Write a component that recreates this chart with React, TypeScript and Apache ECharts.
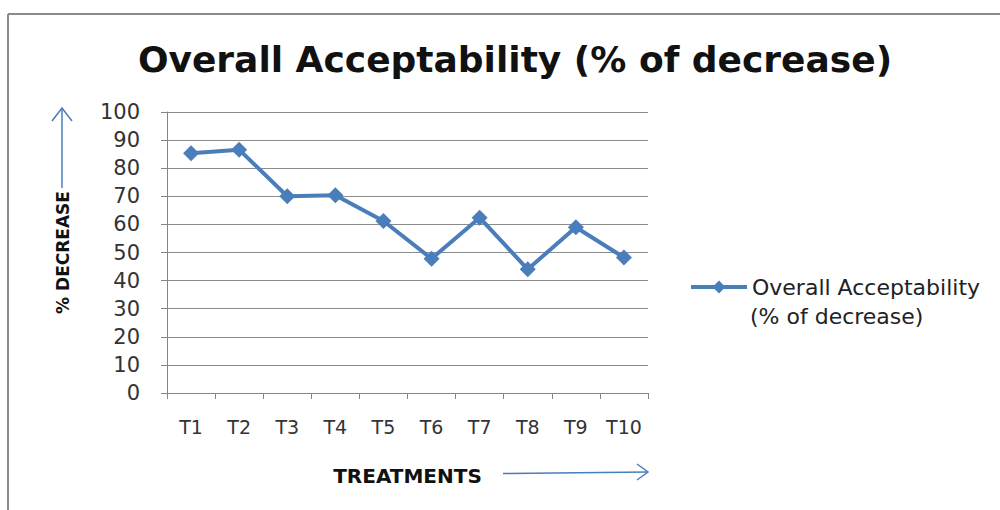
import React, { useEffect, useRef } from "react";
import * as echarts from "echarts";

const categories = ["T1", "T2", "T3", "T4", "T5", "T6", "T7", "T8", "T9", "T10"];
const values = [85.3, 86.6, 70, 70.4, 61.2, 47.8, 62.4, 44, 59, 48.2];
const seriesName = "Overall Acceptability";
const seriesNameLine2 = "(% of decrease)";
const titleText = "Overall Acceptability (% of decrease)";
const yAxisTitle = "% DECREASE";
const xAxisTitle = "TREATMENTS";

const FONT = "DejaVu Sans";
const BLUE = "#4a7ebb";

export default function App() {
  const ref = useRef<HTMLDivElement>(null);
  useEffect(() => {
    if (!ref.current) return;
    const chart = echarts.init(ref.current, null, { renderer: "svg" });
    chart.setOption({
      animation: false,
      backgroundColor: "#ffffff",
      title: {
        text: titleText,
        left: 510,
        top: 36,
        textAlign: "center",
        textStyle: { fontFamily: FONT, fontWeight: "bold", fontSize: 36, color: "#111" },
      },
      grid: { left: 167, right: 352, top: 112, bottom: 117, containLabel: false },
      legend: {
        left: 689,
        top: 276,
        padding: 0,
        itemWidth: 56,
        itemHeight: 16,
        itemGap: 0,
        lineStyle: { width: 4 },
        textStyle: { fontFamily: FONT, fontSize: 22, color: "#222" },
        data: [seriesName],
      },
      xAxis: {
        type: "category",
        data: categories,
        boundaryGap: true,
        name: xAxisTitle,
        nameLocation: "middle",
        nameGap: 73,
        nameTextStyle: { fontFamily: FONT, fontWeight: "bold", fontSize: 20, color: "#111" },
        axisLine: { lineStyle: { color: "#868686", width: 1 } },
        axisTick: { show: true, interval: 0, length: 6, lineStyle: { color: "#868686" } },
        axisLabel: { interval: 0, fontFamily: FONT, fontSize: 19, color: "#333", margin: 24 },
        splitLine: { show: false },
      },
      yAxis: {
        type: "value",
        min: 0,
        max: 100,
        interval: 10,
        name: yAxisTitle,
        nameLocation: "middle",
        nameGap: 96,
        nameRotate: 90,
        nameTextStyle: { fontFamily: FONT, fontWeight: "bold", fontSize: 17, color: "#111" },
        axisLine: { show: true, lineStyle: { color: "#868686", width: 1 } },
        axisTick: { show: true, length: 6, lineStyle: { color: "#868686" } },
        axisLabel: { fontFamily: FONT, fontSize: 21, color: "#333", margin: 27 },
        splitLine: { show: true, lineStyle: { color: "#8c8c8c", width: 1 } },
      },
      series: [
        {
          name: seriesName,
          type: "line",
          data: values,
          symbol: "diamond",
          symbolSize: 16,
          lineStyle: { color: BLUE, width: 4 },
          itemStyle: { color: BLUE },
        },
      ],
      graphic: [
        // outer border
        { type: "line", shape: { x1: 8, y1: 14, x2: 1000, y2: 14 }, style: { stroke: "#8a8a8a", lineWidth: 2 } },
        { type: "line", shape: { x1: 8, y1: 14, x2: 8, y2: 510 }, style: { stroke: "#8a8a8a", lineWidth: 2 } },
        // legend second line
        {
          type: "text",
          left: 750,
          top: 305,
          style: { text: seriesNameLine2, fontFamily: FONT, fontSize: 22, fill: "#222" },
        },
        // y arrow
        { type: "line", shape: { x1: 62, y1: 188, x2: 62, y2: 108 }, style: { stroke: BLUE, lineWidth: 1.5 } },
        { type: "polyline", shape: { points: [[52, 121], [62, 108], [72, 121]] }, style: { stroke: BLUE, lineWidth: 1.5, fill: "none" } },
        // x arrow
        { type: "line", shape: { x1: 503, y1: 473.5, x2: 648, y2: 472 }, style: { stroke: BLUE, lineWidth: 1.5 } },
        { type: "polyline", shape: { points: [[637, 464], [648, 472], [637, 480]] }, style: { stroke: BLUE, lineWidth: 1.5, fill: "none" } },
      ],
    });
    return () => chart.dispose();
  }, []);
  return (
    <div
      ref={ref}
      style={{ position: "fixed", left: 0, top: 0, width: 1000, height: 510 }}
    />
  );
}
